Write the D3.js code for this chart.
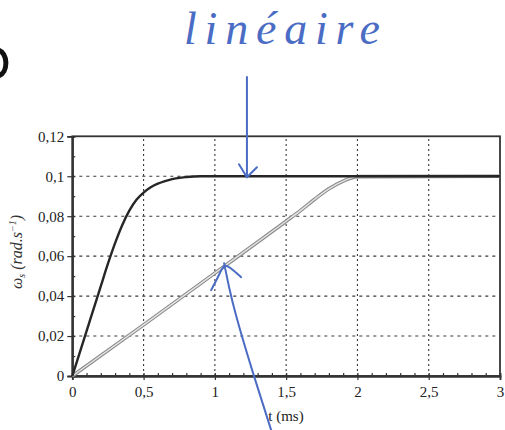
<!DOCTYPE html>
<html><head><meta charset="utf-8">
<script src="https://cdn.jsdelivr.net/npm/d3@7"></script>
<style>
html,body{margin:0;padding:0;background:#fff;}
svg{display:block;}
</style></head>
<body>
<script>
// ---- data ----
const blackT = [0, 0.05, 0.1, 0.15, 0.2, 0.25, 0.3, 0.35, 0.4, 0.45, 0.5, 0.55, 0.6, 0.65, 0.7, 0.8, 0.9, 1.0, 2.0, 3.0];
const blackW = [0, 0.0112, 0.0225, 0.0337, 0.045, 0.0562, 0.0665, 0.0755, 0.0828, 0.0882, 0.0918, 0.0945, 0.0963, 0.0976, 0.0986, 0.0996, 0.1, 0.1, 0.1, 0.1];
const grayT = [0, 0.5, 1.0, 1.5, 1.6, 1.7, 1.8, 1.9, 2.0, 3.0];
const grayW = [0, 0.0256, 0.0515, 0.0775, 0.0828, 0.0885, 0.0937, 0.0976, 0.0998, 0.1];
const xTicks = [0, 0.5, 1, 1.5, 2, 2.5, 3];
const xTickLabels = ["0", "0,5", "1", "1,5", "2", "2,5", "3"];
const yTicks = [0, 0.02, 0.04, 0.06, 0.08, 0.1, 0.12];
const yTickLabels = ["0", "0,02", "0,04", "0,06", "0,08", "0,1", "0,12"];
const xMinor = d3.range(0, 31).map(i => i / 10);
const yMinor = d3.range(0, 13).map(i => i / 100);
const annotation = "linéaire";

// ---- layout ----
const W = 505, H = 430;
const serif = '"Liberation Serif"';
const svg = d3.select("body").append("svg").attr("width", W).attr("height", H);
const x = d3.scaleLinear().domain([0, 3]).range([72.3, 500]);
const y = d3.scaleLinear().domain([0, 0.12]).range([376, 136.3]);
const gridCol = "#3a3a3a";

// grid
svg.append("g").selectAll("line").data(xTicks.slice(1, -1)).join("line")
  .attr("x1", d => x(d)).attr("x2", d => x(d)).attr("y1", y(0)).attr("y2", y(0.12))
  .attr("stroke", gridCol).attr("stroke-width", 1.1).attr("stroke-dasharray", "2,3");
svg.append("g").selectAll("line").data(yTicks.slice(1, -1)).join("line")
  .attr("y1", d => y(d)).attr("y2", d => y(d)).attr("x1", x(0)).attr("x2", x(3))
  .attr("stroke", gridCol).attr("stroke-width", 1.1).attr("stroke-dasharray", "3,4");

// frame
svg.append("rect").attr("x", x(0)).attr("y", y(0.12))
  .attr("width", x(3) - x(0)).attr("height", y(0) - y(0.12))
  .attr("fill", "none").attr("stroke", "#333").attr("stroke-width", 1.8);

// axes
const fmtX = (d) => xTickLabels[xTicks.indexOf(d)];
const fmtY = (d) => yTickLabels[yTicks.findIndex(v => Math.abs(v - d) < 1e-9)];
const gx = svg.append("g").attr("transform", `translate(0,${y(0)})`)
  .call(d3.axisBottom(x).tickValues(xTicks).tickFormat(fmtX).tickSize(4).tickPadding(6));
const gxm = svg.append("g").attr("transform", `translate(0,${y(0)})`)
  .call(d3.axisBottom(x).tickValues(xMinor).tickFormat("").tickSize(-3));
const gy = svg.append("g").attr("transform", `translate(${x(0)},0)`)
  .call(d3.axisLeft(y).tickValues(yTicks).tickFormat(fmtY).tickSize(5).tickPadding(3));
const gym = svg.append("g").attr("transform", `translate(${x(0)},0)`)
  .call(d3.axisLeft(y).tickValues(yMinor).tickFormat("").tickSize(-3));
[gx, gxm, gy, gym].forEach(g => {
  g.attr("font-family", null).attr("font-size", null);
  g.select(".domain").attr("stroke", "#333").attr("stroke-width", 1.8);
  g.selectAll(".tick line").attr("stroke", "#333").attr("stroke-width", 1.2);
  g.selectAll("text").style("font-family", serif).style("font-size", "15px").attr("fill", "#222");
});

// curves
const line = d3.line().x(d => x(d[0])).y(d => y(d[1])).curve(d3.curveMonotoneX);
const grayData = d3.zip(grayT, grayW);
const blackData = d3.zip(blackT, blackW);
svg.append("path").datum(grayData).attr("d", line).attr("fill", "none")
  .attr("stroke", "#8a8a8a").attr("stroke-width", 3.6);
svg.append("path").datum(grayData).attr("d", line).attr("fill", "none")
  .attr("stroke", "#e4e4e4").attr("stroke-width", 1.4);
svg.append("path").datum(blackData).attr("d", line).attr("fill", "none")
  .attr("stroke", "#262626").attr("stroke-width", 2.4);

// axis titles
svg.append("text").attr("x", 286).attr("y", 421).attr("text-anchor", "middle")
  .style("font-family", serif).style("font-size", "15px").attr("fill", "#222")
  .text("t (ms)");
const yt = svg.append("text").attr("transform", "translate(22,252) rotate(-90)")
  .attr("text-anchor", "middle").style("font-family", serif)
  .style("font-size", "16px").style("font-style", "italic").attr("fill", "#333");
yt.append("tspan").text("ω");
yt.append("tspan").style("font-size", "10px").attr("dy", 3).text("s");
yt.append("tspan").attr("dy", -3).text(" (rad.s");
yt.append("tspan").style("font-size", "10px").attr("dy", -6).text("−1");
yt.append("tspan").attr("dy", 6).text(")");

// cropped mark at top-left (part of a glyph cut by the image edge)
svg.append("path").attr("d", "M-2,50 C8,52 9,73 -2,76")
  .attr("fill", "none").attr("stroke", "#111").attr("stroke-width", 5);

// handwritten annotation
const blue = "#4a6cc4";
svg.append("text").attr("x", 184).attr("y", 44).style("font-family", serif)
  .style("font-style", "italic").style("font-size", "46px").attr("fill", blue)
  .attr("textLength", 196).attr("lengthAdjust", "spacing").text(annotation);
const arrowG = svg.append("g").attr("fill", "none").attr("stroke", blue)
  .attr("stroke-width", 2).attr("stroke-linecap", "round").attr("stroke-linejoin", "round");
const tipA = [x(1.225), y(0.0995)];
arrowG.append("path").attr("d", d3.line()([[tipA[0], 77], tipA]));
arrowG.append("path").attr("d", d3.line()([[tipA[0] - 8, tipA[1] - 13], tipA, [tipA[0] + 10, tipA[1] - 10]]));
const tipB = [x(1.065), y(0.0565)];
arrowG.append("path").attr("d", d3.line().curve(d3.curveBasis)([tipB, [tipB[0] + 7, tipB[1] + 36], [tipB[0] + 24, tipB[1] + 95], [tipB[0] + 48, tipB[1] + 170]]));
arrowG.append("path").attr("d", d3.line().curve(d3.curveBasis)([[tipB[0] - 13, tipB[1] + 27], [tipB[0] - 4, tipB[1] + 10], tipB, [tipB[0] + 8, tipB[1] + 6], [tipB[0] + 17, tipB[1] + 14]]));
</script>
</body></html>
